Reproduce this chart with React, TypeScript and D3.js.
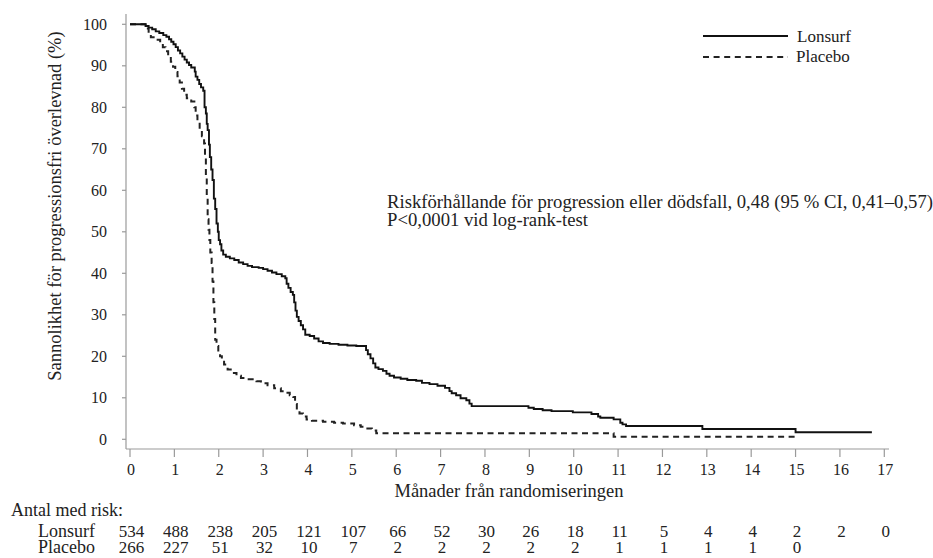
import React from "react";
import * as d3 from "d3";

const xTicks = [0, 1, 2, 3, 4, 5, 6, 7, 8, 9, 10, 11, 12, 13, 14, 15, 16, 17];
const yTicks = [0, 10, 20, 30, 40, 50, 60, 70, 80, 90, 100];

const lonsurfCurve: [number, number][] = [
  [0, 100], [0.3, 100], [0.35, 99.6], [0.42, 99.2], [0.5, 98.8], [0.58, 98.3], [0.66, 97.9],
  [0.75, 97.4], [0.82, 97.0], [0.88, 96.4], [0.93, 95.8], [0.98, 95.2], [1.03, 94.5],
  [1.08, 93.7], [1.13, 93.0], [1.18, 92.2], [1.23, 91.5], [1.28, 90.8], [1.33, 90.2],
  [1.38, 89.6], [1.46, 88.6], [1.48, 87.4], [1.52, 86.6], [1.56, 85.6], [1.6, 84.8],
  [1.65, 84.0], [1.68, 80.0], [1.71, 78.5], [1.73, 76], [1.75, 74.5], [1.78, 71], [1.8, 68],
  [1.83, 65], [1.86, 62.5], [1.89, 58], [1.92, 55.5], [1.95, 52], [1.98, 50], [2.0, 48],
  [2.03, 47], [2.06, 45.5], [2.1, 44.5], [2.16, 44.0], [2.25, 43.6], [2.35, 43.2],
  [2.45, 42.6], [2.55, 42.2], [2.65, 41.8], [2.75, 41.5], [2.9, 41.3], [3.0, 41.0],
  [3.1, 40.6], [3.2, 40.2], [3.3, 39.8], [3.42, 39.3], [3.5, 38.8], [3.53, 37.5],
  [3.57, 36.5], [3.62, 35.5], [3.67, 34.8], [3.7, 33], [3.73, 31], [3.76, 29.5], [3.8, 28.5],
  [3.85, 27.5], [3.9, 26.5], [3.95, 25.2], [4.05, 24.9], [4.15, 24.3], [4.25, 23.6],
  [4.35, 23.2], [4.5, 23.0], [4.7, 22.8], [4.9, 22.6], [5.1, 22.5], [5.32, 21.5],
  [5.36, 20.5], [5.42, 19.5], [5.48, 18.3], [5.53, 17.3], [5.6, 16.9], [5.7, 16.5],
  [5.78, 15.8], [5.85, 15.3], [5.95, 14.9], [6.1, 14.6], [6.25, 14.3], [6.45, 14.1],
  [6.58, 13.6], [6.75, 13.3], [6.93, 12.9], [7.1, 12.4], [7.2, 11.6], [7.25, 11.1],
  [7.35, 10.6], [7.45, 9.9], [7.58, 9.4], [7.65, 8.6], [7.7, 8.0], [8.98, 7.6], [9.1, 7.3],
  [9.3, 7.0], [9.5, 6.8], [9.98, 6.5], [10.4, 6.1], [10.55, 5.5], [10.6, 5.2], [10.9, 4.8],
  [11.05, 4.0], [11.1, 3.6], [11.18, 3.2], [12.9, 2.5], [15.0, 1.7], [16.72, 1.7],
];

const placeboCurve: [number, number][] = [
  [0, 100], [0.3, 100], [0.35, 99], [0.42, 97.5], [0.47, 96.9], [0.6, 96.3], [0.68, 95.6],
  [0.74, 94.5], [0.8, 93.5], [0.86, 92.2], [0.92, 91], [0.97, 89.8], [1.02, 88.5],
  [1.07, 87.5], [1.12, 86], [1.17, 84.5], [1.22, 83], [1.28, 82.2], [1.38, 81.4], [1.45, 80],
  [1.48, 78], [1.52, 76.5], [1.57, 74.8], [1.62, 73], [1.67, 71.3], [1.69, 68], [1.71, 63],
  [1.73, 58], [1.75, 53], [1.77, 50.5], [1.79, 48], [1.81, 45], [1.84, 42.5], [1.86, 38],
  [1.88, 33], [1.9, 29], [1.92, 24], [1.95, 22.5], [1.99, 21], [2.03, 20], [2.07, 18.7],
  [2.12, 18], [2.2, 16.8], [2.3, 16], [2.4, 15.3], [2.5, 14.8], [2.6, 14.5], [2.85, 14],
  [2.95, 13.5], [3.1, 13], [3.25, 12.3], [3.4, 11.6], [3.5, 11.2], [3.6, 10.6], [3.68, 10.2],
  [3.72, 8.5], [3.76, 7], [3.82, 6.2], [3.9, 5.5], [3.98, 4.8], [4.1, 4.5], [4.35, 4.2],
  [4.6, 4.0], [4.8, 3.8], [5.05, 3.4], [5.2, 3.0], [5.35, 2.6], [5.45, 2.1], [5.55, 1.45],
  [10.9, 0.63], [15.0, 0.63],
];

const lonsurfAtRisk = [534, 488, 238, 205, 121, 107, 66, 52, 30, 26, 18, 11, 5, 4, 4, 2, 2, 0];
const placeboAtRisk = [266, 227, 51, 32, 10, 7, 2, 2, 2, 2, 2, 1, 1, 1, 1, 0];

const seriesNames = ["Lonsurf", "Placebo"];

const FONT = '"Liberation Serif", "Times New Roman", serif';

export default function App() {
  const x = d3.scaleLinear().domain([0, 17]).range([130, 884.3]);
  const y = d3.scaleLinear().domain([0, 100]).range([439.3, 24.3]);
  const line = d3
    .line<[number, number]>()
    .x((d) => x(d[0]))
    .y((d) => y(d[1]))
    .curve(d3.curveStepAfter);

  const axisColor = "#9a9a9a";
  const textColor = "#222";

  return (
    <svg
      width={933}
      height={558}
      style={{ position: "absolute", left: 0, top: 0, background: "#fff" }}
      fontFamily={FONT}
    >
      {/* axes */}
      <line x1={126} y1={14} x2={126} y2={449} stroke={axisColor} strokeWidth={1.2} />
      <line x1={126} y1={449} x2={889} y2={449} stroke={axisColor} strokeWidth={1.2} />
      {yTicks.map((t) => (
        <g key={"y" + t}>
          <line x1={122} x2={126} y1={y(t)} y2={y(t)} stroke={axisColor} strokeWidth={1.2} />
          <text x={107} y={y(t)} dy="0.34em" textAnchor="end" fontSize={16} fill={textColor}>
            {t}
          </text>
        </g>
      ))}
      {xTicks.map((t) => (
        <g key={"x" + t}>
          <line x1={x(t)} x2={x(t)} y1={449} y2={457} stroke={axisColor} strokeWidth={1.2} />
          <text x={x(t) + 1} y={475} textAnchor="middle" fontSize={16} fill={textColor}>
            {t}
          </text>
        </g>
      ))}
      <text x={509} y={497} textAnchor="middle" fontSize={18.5} fill={textColor}>
        Månader från randomiseringen
      </text>
      <text
        transform={`translate(61,206) rotate(-90)`}
        textAnchor="middle"
        fontSize={18.5}
        fill={textColor}
      >
        Sannolikhet för progressionsfri överlevnad (%)
      </text>

      {/* curves */}
      <path d={line(placeboCurve) || ""} fill="none" stroke="#222" strokeWidth={2} strokeDasharray="6,4.5" />
      <path d={line(lonsurfCurve) || ""} fill="none" stroke="#111" strokeWidth={1.9} />

      {/* legend */}
      <line x1={703} x2={788} y1={36} y2={36} stroke="#111" strokeWidth={2} />
      <text x={797} y={42} fontSize={17} fill={textColor}>
        {seriesNames[0]}
      </text>
      <line x1={703} x2={788} y1={57} y2={57} stroke="#222" strokeWidth={2} strokeDasharray="6,4.6" />
      <text x={796} y={62} fontSize={17} fill={textColor}>
        {seriesNames[1]}
      </text>

      {/* annotation */}
      <text x={387} y={207.5} fontSize={18.7} fill={textColor}>
        Riskförhållande för progression eller dödsfall, 0,48 (95 % CI, 0,41–0,57)
      </text>
      <text x={387} y={225.5} fontSize={18.7} fill={textColor}>
        P&lt;0,0001 vid log-rank-test
      </text>

      {/* at-risk table */}
      <text x={11} y={516} fontSize={18} fill={textColor}>
        Antal med risk:
      </text>
      <text x={38} y={537} fontSize={18} fill={textColor}>
        {seriesNames[0]}
      </text>
      <text x={38} y={553} fontSize={18} fill={textColor}>
        {seriesNames[1]}
      </text>
      {lonsurfAtRisk.map((n, i) => (
        <text key={"lr" + i} x={x(i) + 1.5} y={537} textAnchor="middle" fontSize={17} fill={textColor}>
          {n}
        </text>
      ))}
      {placeboAtRisk.map((n, i) => (
        <text key={"pr" + i} x={x(i) + 1.5} y={553} textAnchor="middle" fontSize={17} fill={textColor}>
          {n}
        </text>
      ))}
    </svg>
  );
}
